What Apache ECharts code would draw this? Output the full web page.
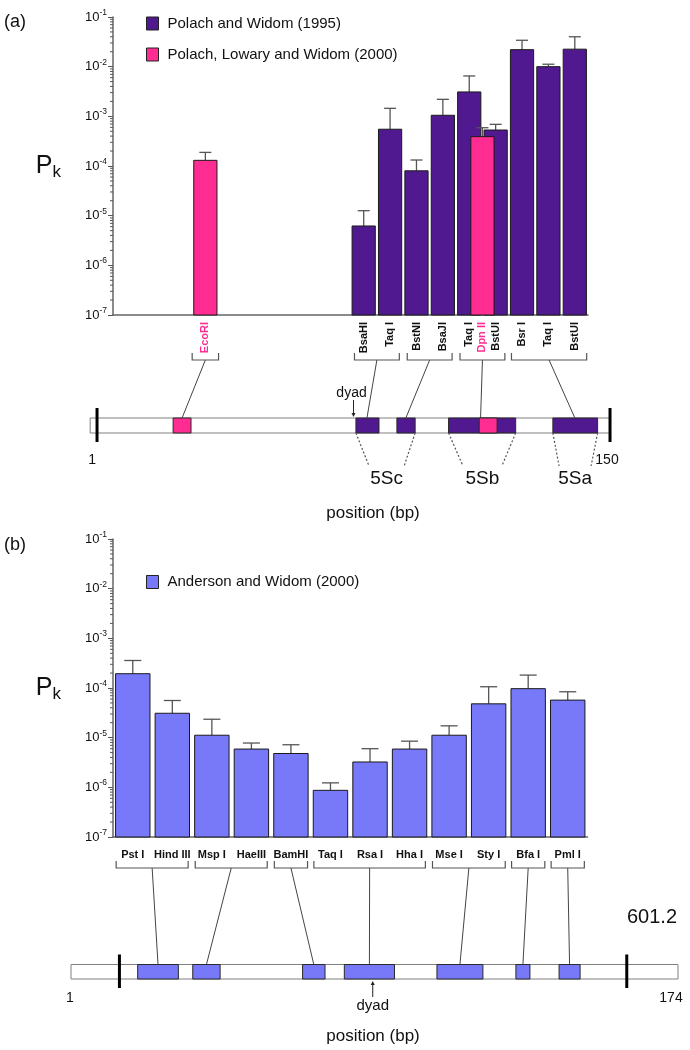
<!DOCTYPE html>
<html><head><meta charset="utf-8">
<script src="https://cdn.jsdelivr.net/npm/echarts/dist/echarts.min.js"></script>
<style>html,body{margin:0;padding:0;background:#fff}#c{width:690px;height:1050px}</style>
</head><body><div id="c"></div>
<script>
const FONT = '"Liberation Sans", Arial, Helvetica, sans-serif';
const YMIN = 1e-7, YMAX = 1e-1;

// ---------------- Panel (a) data ----------------
const a95Names   = ['BsaHI','Taq I','BstNI','BsaJI','Taq I','BstUI','Bsr I','Taq I','BstUI'];
const a95Slots   = [9, 10, 11, 12, 13, 14, 15, 16, 17];
const a95Values  = [6.2e-6, 5.5e-4, 8.0e-5, 1.05e-3, 3.1e-3, 5.3e-4, 2.2e-2, 1.0e-2, 2.25e-2];
const a95ErrTop  = [1.26e-5, 1.45e-3, 1.32e-4, 2.2e-3, 6.5e-3, 6.9e-4, 3.4e-2, 1.12e-2, 4.0e-2];
const a00Names   = ['EcoRI','Dpn II'];
const a00Slots   = [3, 13.5];
const a00Values  = [1.3e-4, 3.9e-4];
const a00ErrTop  = [1.88e-4, 5.9e-4];
const aBrackets  = [[2.5,3.5],[8.65,10.35],[10.65,12.35],[12.65,14.35],[14.6,17.45]];
const aSeqRange  = [-1, 150];
const aSeqEnds   = [1, 150];
const aEndLabels = ['1', '150'];
const aSites95   = [[76.2,82.9],[88.1,93.4],[103.1,122.6],[133.4,146.4]];
const aSites00   = [[23.1,28.3],[112,117.2]];
const aAnchors   = [25.7, 79.4, 90.7, 112.4, 139.8];
const aDyad      = 75.5;
const aRegionNames  = ['5Sc','5Sb','5Sa'];
const aRegionTop    = [[76.2,93.4],[103.1,122.6],[133.4,146.4]];
const aRegionBottom = [[80,90.2],[107.3,118.6],[135.2,144.5]];

// ---------------- Panel (b) data ----------------
const bNames    = ['Pst I','Hind III','Msp I','HaeIII','BamHI','Taq I','Rsa I','Hha I','Mse I','Sty I','Bfa I','Pml I'];
const bSlots    = [0,1,2,3,4,5,6,7,8,9,10,11];
const bValues   = [1.94e-4, 3.1e-5, 1.12e-5, 5.9e-6, 4.8e-6, 8.7e-7, 3.24e-6, 5.9e-6, 1.12e-5, 4.8e-5, 9.7e-5, 5.7e-5];
const bErrTop   = [3.58e-4, 5.6e-5, 2.35e-5, 7.8e-6, 7.2e-6, 1.23e-6, 6.0e-6, 8.5e-6, 1.73e-5, 1.06e-4, 1.82e-4, 8.4e-5];
const bBrackets = [[-0.42,1.4],[1.58,3.4],[3.58,4.42],[4.58,7.4],[7.58,9.42],[9.58,10.42],[10.58,11.42]];
const bSeqRange = [1, 174];
const bSeqEnds  = [14.8, 159.4];
const bEndLabels = ['1', '174'];
const bSites    = [[20.0,31.6],[35.7,43.5],[67.0,73.4],[78.9,93.2],[105.3,118.4],[127.8,131.8],[140.1,146.1]];
const bAnchors  = [25.8, 39.6, 70.2, 86.05, 111.85, 129.8, 143.1];
const bDyad     = 87;

const NAME95 = 'Polach and Widom (1995)';
const NAME00 = 'Polach, Lowary and Widom (2000)';
const NAMEB  = 'Anderson and Widom (2000)';
const PURPLE = '#50198f', PINK = '#ff2d91', BLUE = '#7779f8';

// minor ticks of the log axis (2..9 x 10^n)
const minorTickValues = [];
for (let e = -7; e < -1; e++) for (let k = 2; k <= 9; k++) minorTickValues.push(k * Math.pow(10, e));

// ---------------- renderers ----------------
function barRender(halfW, capHalf) {
  return function (params, api) {
    const x = api.value(0), v = api.value(1), e = api.value(2);
    const pt = api.coord([x, v]);
    const pl = api.coord([x - halfW, v]);
    const pr = api.coord([x + halfW, v]);
    const pb = api.coord([x, YMIN]);
    const pe = api.coord([x, e]);
    const es = {stroke: '#555', lineWidth: 1.3};
    return {type: 'group', children: [
      {type: 'line', shape: {x1: pt[0], y1: pt[1], x2: pe[0], y2: pe[1]}, style: es},
      {type: 'line', shape: {x1: pt[0] - capHalf, y1: pe[1], x2: pt[0] + capHalf, y2: pe[1]}, style: es},
      {type: 'rect', shape: {x: pl[0], y: pt[1], width: pr[0] - pl[0], height: pb[1] - pt[1]},
       style: {fill: api.visual('color'), stroke: '#1a1a1a', lineWidth: 1}}
    ]};
  };
}
function minorRender(params, api) {
  const p = api.coord([api.value(0), api.value(1)]);
  return {type: 'line', shape: {x1: p[0] - 3, y1: p[1], x2: p[0], y2: p[1]}, style: {stroke: '#555', lineWidth: 1}};
}
function bracketRender(top, bot) {
  return function (params, api) {
    const p1 = api.coord([api.value(0), YMIN]);
    const p2 = api.coord([api.value(1), YMIN]);
    return {type: 'polyline', shape: {points: [[p1[0], p1[1] + top], [p1[0], p1[1] + bot], [p2[0], p1[1] + bot], [p2[0], p1[1] + top]]},
      style: {stroke: '#555', lineWidth: 1.2, fill: null}};
  };
}
function siteRender(params, api) {
  const p1 = api.coord([api.value(0), 1]);
  const p2 = api.coord([api.value(1), 0]);
  return {type: 'rect', shape: {x: p1[0], y: p1[1], width: p2[0] - p1[0], height: p2[1] - p1[1]},
    style: {fill: api.visual('color'), stroke: '#2a2a2a', lineWidth: 1}};
}
function seqBoxRender(params, api) {
  const p1 = api.coord([api.value(0), 1]);
  const p2 = api.coord([api.value(1), 0]);
  return {type: 'rect', shape: {x: p1[0], y: p1[1], width: p2[0] - p1[0], height: p2[1] - p1[1]},
    style: {fill: '#fff', stroke: '#808080', lineWidth: 1}};
}
function thickRender(params, api) {
  const pt = api.coord([api.value(0), 1]);
  const pb = api.coord([api.value(0), 0]);
  return {type: 'line', shape: {x1: pt[0], y1: pt[1] - 10, x2: pt[0], y2: pb[1] + 9}, style: {stroke: '#000', lineWidth: 3}};
}
function endLabelRender(labels, offsets, dy) {
  return function (params, api) {
    const p = api.coord([api.value(0), 0]);
    return {type: 'text', x: p[0] + offsets[params.dataIndex], y: p[1] + dy,
      style: {text: labels[params.dataIndex], font: '14px ' + FONT, fill: '#111', align: 'center', verticalAlign: 'middle'}};
  };
}

// label lists for panel (a) (rotated)
const aLabelNames  = a00Names.concat(a95Names);
const aLabelSlots  = a00Slots.concat(a95Slots);
const aLabelColors = a00Names.map(() => PINK).concat(a95Names.map(() => '#111'));

function logLabel(v) {
  const e = Math.round(Math.log10(v));
  return '{b|10}{s|' + e + '}';
}
const yLabelRich = {
  b: {fontSize: 13, fontFamily: FONT, color: '#111', lineHeight: 18},
  s: {fontSize: 8.5, fontFamily: FONT, color: '#111', lineHeight: 10, verticalAlign: 'top'}
};
const pkName = {
  rich: {
    p: {fontSize: 25, fontFamily: FONT, color: '#111', lineHeight: 30},
    k: {fontSize: 17, fontFamily: FONT, color: '#111', lineHeight: 18, verticalAlign: 'bottom'}
  }
};
function yAxisLog(gridIndex) {
  return {
    type: 'log', logBase: 10, gridIndex, min: YMIN, max: YMAX, splitNumber: 6,
    name: '{p|P}{k|k}', nameLocation: 'middle', nameRotate: 0, nameGap: 52, nameTextStyle: pkName,
    axisLine: {show: true, onZero: false, lineStyle: {color: '#666', width: 1.5}},
    axisTick: {show: true, length: 5, lineStyle: {color: '#555'}},
    axisLabel: {formatter: logLabel, rich: yLabelRich, margin: 6},
    splitLine: {show: false}
  };
}
function xAxisSlots(gridIndex, min, max) {
  return {type: 'value', gridIndex, min, max, axisLine: {show: true, onZero: false, lineStyle: {color: '#666', width: 1.5}},
    axisTick: {show: false}, axisLabel: {show: false}, splitLine: {show: false}};
}
function hiddenAxis(type, gridIndex, min, max) {
  return {type, gridIndex, min, max, show: false, splitLine: {show: false}};
}
const legendText = {fontSize: 15, fontFamily: FONT, color: '#111', padding: [0, 0, 0, 4], lineHeight: 13};

const option = {
  animation: false,
  backgroundColor: '#fff',
  textStyle: {fontFamily: FONT},
  grid: [
    {left: 113, top: 17, width: 475, height: 298, outerBoundsMode: 'none', containLabel: false},
    {left: 113, top: 539, width: 474.5, height: 298, outerBoundsMode: 'none', containLabel: false},
    {left: 86.7, top: 418, width: 530.2, height: 15, outerBoundsMode: 'none', containLabel: false},
    {left: 67.5, top: 964.5, width: 614, height: 14.5, outerBoundsMode: 'none', containLabel: false}
  ],
  xAxis: [
    xAxisSlots(0, -0.5, 17.5),
    xAxisSlots(1, -0.5, 11.5),
    hiddenAxis('value', 2, -2, 152),
    hiddenAxis('value', 3, 0, 175)
  ],
  yAxis: [
    yAxisLog(0),
    yAxisLog(1),
    hiddenAxis('value', 2, 0, 1),
    hiddenAxis('value', 3, 0, 1)
  ],
  legend: [
    {data: [{name: NAME95, itemStyle: {color: PURPLE}}, {name: NAME00, itemStyle: {color: PINK}}],
     orient: 'vertical', left: 141, top: 11, itemWidth: 12, itemHeight: 13, itemGap: 16, icon: 'rect', selectedMode: false,
     itemStyle: {borderColor: '#222', borderWidth: 1}, textStyle: legendText},
    {data: [{name: NAMEB, itemStyle: {color: BLUE}}],
     orient: 'vertical', left: 141, top: 569.5, itemWidth: 12, itemHeight: 13, icon: 'rect', selectedMode: false,
     itemStyle: {borderColor: '#222', borderWidth: 1}, textStyle: legendText}
  ],
  series: [
    // ----- panel (a) bars -----
    {type: 'custom', name: NAME95, xAxisIndex: 0, yAxisIndex: 0, itemStyle: {color: PURPLE, borderColor: '#222'},
     data: a95Slots.map((s, i) => [s, a95Values[i], a95ErrTop[i]]), renderItem: barRender(0.44, 6)},
    {type: 'custom', name: NAME00, xAxisIndex: 0, yAxisIndex: 0, itemStyle: {color: PINK, borderColor: '#222'},
     data: a00Slots.map((s, i) => [s, a00Values[i], a00ErrTop[i]]), renderItem: barRender(0.44, 6)},
    {type: 'custom', xAxisIndex: 0, yAxisIndex: 0, silent: true,
     data: minorTickValues.map(v => [-0.5, v]), renderItem: minorRender},
    {type: 'custom', xAxisIndex: 0, yAxisIndex: 0, silent: true,
     data: aLabelSlots.map(s => [s, YMIN]),
     renderItem: function (params, api) {
       const p = api.coord([api.value(0), YMIN]);
       return {type: 'text', x: p[0], y: p[1] + 7, rotation: Math.PI / 2,
         style: {text: aLabelNames[params.dataIndex], fill: aLabelColors[params.dataIndex], font: 'bold 11px ' + FONT, align: 'right', verticalAlign: 'middle'}};
     }},
    {type: 'custom', xAxisIndex: 0, yAxisIndex: 0, silent: true, data: aBrackets, renderItem: bracketRender(38, 45)},
    // ----- panel (b) bars -----
    {type: 'custom', name: NAMEB, xAxisIndex: 1, yAxisIndex: 1, itemStyle: {color: BLUE, borderColor: '#222'},
     data: bSlots.map((s, i) => [s, bValues[i], bErrTop[i]]), renderItem: barRender(0.435, 8.5)},
    {type: 'custom', xAxisIndex: 1, yAxisIndex: 1, silent: true,
     data: minorTickValues.map(v => [-0.5, v]), renderItem: minorRender},
    {type: 'custom', xAxisIndex: 1, yAxisIndex: 1, silent: true,
     data: bSlots.map(s => [s, YMIN]),
     renderItem: function (params, api) {
       const p = api.coord([api.value(0), YMIN]);
       return {type: 'text', x: p[0], y: p[1] + 18,
         style: {text: bNames[params.dataIndex], fill: '#111', font: 'bold 11px ' + FONT, align: 'center', verticalAlign: 'middle'}};
     }},
    {type: 'custom', xAxisIndex: 1, yAxisIndex: 1, silent: true, data: bBrackets, renderItem: bracketRender(24, 31)},
    // ----- panel (a) sequence -----
    {type: 'custom', xAxisIndex: 2, yAxisIndex: 2, silent: true, data: [aSeqRange], renderItem: seqBoxRender},
    {type: 'custom', xAxisIndex: 2, yAxisIndex: 2, silent: true, itemStyle: {color: PURPLE}, data: aSites95, renderItem: siteRender},
    {type: 'custom', xAxisIndex: 2, yAxisIndex: 2, silent: true, itemStyle: {color: PINK}, data: aSites00, renderItem: siteRender},
    {type: 'custom', xAxisIndex: 2, yAxisIndex: 2, silent: true, data: aSeqEnds.map(v => [v, 0]), renderItem: thickRender},
    {type: 'custom', xAxisIndex: 2, yAxisIndex: 2, silent: true, data: aSeqEnds.map(v => [v, 0]), renderItem: endLabelRender(aEndLabels, [-5, -3], 27)},
    {type: 'custom', xAxisIndex: 2, yAxisIndex: 2, silent: true, data: [[aDyad, 1]],
     renderItem: function (params, api) {
       const p = api.coord([api.value(0), 1]);
       return {type: 'group', children: [
         {type: 'line', shape: {x1: p[0], y1: p[1] - 18, x2: p[0], y2: p[1] - 3}, style: {stroke: '#222', lineWidth: 1}},
         {type: 'polygon', shape: {points: [[p[0] - 2, p[1] - 5], [p[0] + 2, p[1] - 5], [p[0], p[1] - 1]]}, style: {fill: '#222'}},
         {type: 'text', x: p[0] - 2, y: p[1] - 25, style: {text: 'dyad', font: '14px ' + FONT, fill: '#111', align: 'center', verticalAlign: 'middle'}}
       ]};
     }},
    {type: 'custom', xAxisIndex: 2, yAxisIndex: 2, silent: true,
     data: aRegionTop.map((t, i) => [t[0], t[1], aRegionBottom[i][0], aRegionBottom[i][1]]),
     renderItem: function (params, api) {
       const t0 = api.coord([api.value(0), 0]), t1 = api.coord([api.value(1), 0]);
       const b0 = api.coord([api.value(2), 0]), b1 = api.coord([api.value(3), 0]);
       const ds = {stroke: '#555', lineWidth: 1.2, lineDash: [2, 2]};
       const yb = t0[1] + 33;
       return {type: 'group', children: [
         {type: 'line', shape: {x1: t0[0], y1: t0[1], x2: b0[0], y2: yb}, style: ds},
         {type: 'line', shape: {x1: t1[0], y1: t1[1], x2: b1[0], y2: yb}, style: ds},
         {type: 'text', x: (b0[0] + b1[0]) / 2, y: t0[1] + 46,
          style: {text: aRegionNames[params.dataIndex], font: '19px ' + FONT, fill: '#111', align: 'center', verticalAlign: 'middle'}}
       ]};
     }},
    // ----- panel (b) sequence -----
    {type: 'custom', xAxisIndex: 3, yAxisIndex: 3, silent: true, data: [bSeqRange], renderItem: seqBoxRender},
    {type: 'custom', xAxisIndex: 3, yAxisIndex: 3, silent: true, itemStyle: {color: BLUE}, data: bSites, renderItem: siteRender},
    {type: 'custom', xAxisIndex: 3, yAxisIndex: 3, silent: true, data: bSeqEnds.map(v => [v, 0]), renderItem: thickRender},
    {type: 'custom', xAxisIndex: 3, yAxisIndex: 3, silent: true, data: bSeqRange.map(v => [v, 0]), renderItem: endLabelRender(bEndLabels, [-1, -7], 19.5)},
    {type: 'custom', xAxisIndex: 3, yAxisIndex: 3, silent: true, data: [[bDyad, 0]],
     renderItem: function (params, api) {
       const p = api.coord([api.value(0), 0]);
       return {type: 'group', children: [
         {type: 'line', shape: {x1: p[0], y1: p[1] + 18, x2: p[0], y2: p[1] + 4}, style: {stroke: '#222', lineWidth: 1}},
         {type: 'polygon', shape: {points: [[p[0] - 2, p[1] + 6], [p[0] + 2, p[1] + 6], [p[0], p[1] + 2]]}, style: {fill: '#222'}},
         {type: 'text', x: p[0], y: p[1] + 27, style: {text: 'dyad', font: '15px ' + FONT, fill: '#111', align: 'center', verticalAlign: 'middle'}}
       ]};
     }}
  ]
};

const chart = echarts.init(document.getElementById('c'), null, {renderer: 'canvas'});
chart.setOption(option);

function connectors(brackets, anchors, barGrid, seqGrid, offset) {
  return brackets.map((b, i) => {
    const c = (b[0] + b[1]) / 2;
    const p1 = chart.convertToPixel({gridIndex: barGrid}, [c, YMIN]);
    const p2 = chart.convertToPixel({gridIndex: seqGrid}, [anchors[i], 1]);
    return {type: 'line', silent: true, shape: {x1: p1[0], y1: p1[1] + offset, x2: p2[0], y2: p2[1]},
      style: {stroke: '#444', lineWidth: 1}};
  });
}
function txt(x, y, text, font, align) {
  return {type: 'text', x, y, silent: true,
    style: {text, font, fill: '#111', align: align || 'center', verticalAlign: 'middle', textAlign: align || 'center', textVerticalAlign: 'middle'}};
}
const graphics = []
  .concat(connectors(aBrackets, aAnchors, 0, 2, 45))
  .concat(connectors(bBrackets, bAnchors, 1, 3, 31))
  .concat([
    txt(4, 22, '(a)', '18px ' + FONT, 'left'),
    txt(4, 545, '(b)', '18px ' + FONT, 'left'),
    txt(373, 513, 'position (bp)', '17px ' + FONT),
    txt(373, 1036, 'position (bp)', '17px ' + FONT),
    txt(652, 917.5, '601.2', '20px ' + FONT)
  ]);
chart.setOption({graphic: {elements: graphics}});
</script></body></html>
